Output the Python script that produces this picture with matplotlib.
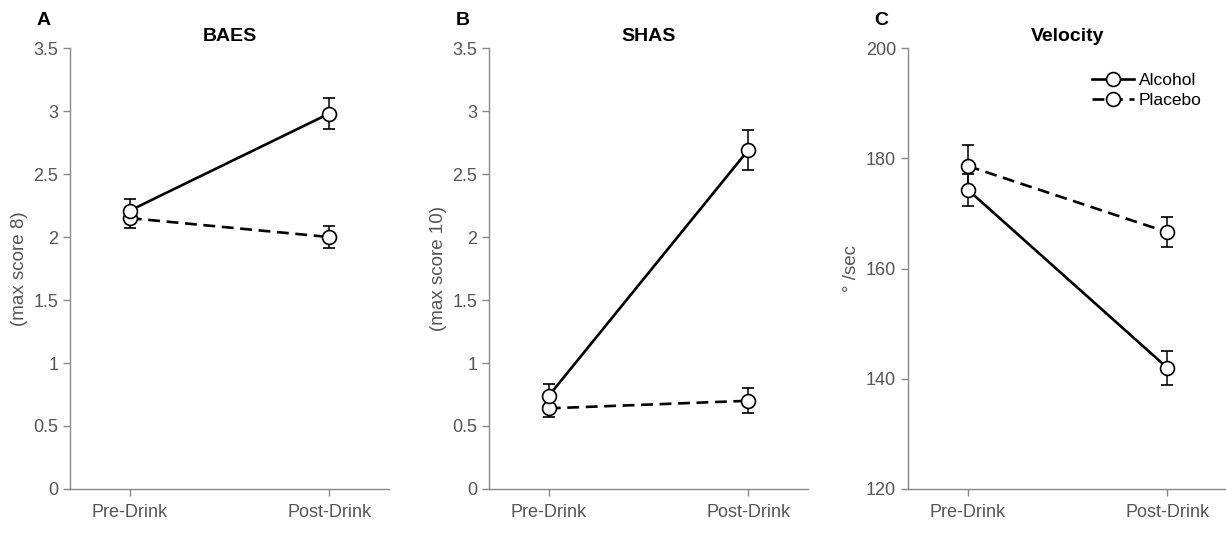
import numpy as np
import matplotlib
matplotlib.use('Agg')
import matplotlib.pyplot as plt
from matplotlib.lines import Line2D
from matplotlib.ticker import FuncFormatter

plt.rcParams['font.family'] = ['Liberation Sans', 'DejaVu Sans']

# data
phases = ['Pre-Drink', 'Post-Drink']
groups = ['Alcohol', 'Placebo']

baes_alcohol = [2.21, 2.98]
baes_alcohol_err = [0.09, 0.12]
baes_placebo = [2.15, 2.00]
baes_placebo_err = [0.075, 0.09]

shas_alcohol = [0.74, 2.69]
shas_alcohol_err = [0.09, 0.16]
shas_placebo = [0.64, 0.70]
shas_placebo_err = [0.065, 0.10]

vel_alcohol = [174.3, 142.0]
vel_alcohol_err = [2.9, 3.1]
vel_placebo = [178.6, 166.6]
vel_placebo_err = [3.8, 2.7]

panels = [
    ('A', 'BAES', '(max score 8)', baes_alcohol, baes_alcohol_err, baes_placebo, baes_placebo_err,
     (0, 3.5), np.arange(0, 3.51, 0.5)),
    ('B', 'SHAS', '(max score 10)', shas_alcohol, shas_alcohol_err, shas_placebo, shas_placebo_err,
     (0, 3.5), np.arange(0, 3.51, 0.5)),
    ('C', 'Velocity', '\u00b0 /sec', vel_alcohol, vel_alcohol_err, vel_placebo, vel_placebo_err,
     (120, 200), np.arange(120, 201, 20)),
]

fig = plt.figure(figsize=(12.26, 5.45), dpi=100)
lefts = [70 / 1226, 489 / 1226, 908 / 1226]
grey = '#555555'
spine_grey = '#888888'
dash = (0, (4.5, 2.5))
mstyle = dict(marker='o', ms=10, mfc='white', mec='black', mew=1.2)

x = np.arange(len(phases))
for i, (letter, title, ylab, a, ae, p, pe, ylim, yt) in enumerate(panels):
    ax = fig.add_axes([lefts[i], 0.1028, 0.2602, 0.809])
    ax.errorbar(x, p, yerr=pe, color='black', ls=dash, lw=1.9,
                capsize=4, elinewidth=1.1, ecolor='black', **mstyle)
    ax.errorbar(x, a, yerr=ae, color='black', ls='-', lw=1.9,
                capsize=4, elinewidth=1.1, ecolor='black', **mstyle)
    ax.set_xlim(-0.3, 1.3)
    ax.set_ylim(*ylim)
    ax.set_yticks(yt)
    ax.yaxis.set_major_formatter(FuncFormatter(lambda v, pos: '%g' % v))
    ax.set_xticks(x)
    ax.set_xticklabels(phases)
    for s in ['top', 'right']:
        ax.spines[s].set_visible(False)
    for s in ['left', 'bottom']:
        ax.spines[s].set_color(spine_grey)
        ax.spines[s].set_linewidth(1.0)
    ax.tick_params(colors=spine_grey, labelcolor=grey, labelsize=13, length=5, width=1.0)
    ax.tick_params(axis='x', pad=6)
    ax.set_ylabel(ylab, color=grey, fontsize=13.5, labelpad=4)
    ax.set_title(title, fontsize=14, fontweight='bold', pad=5)
    ax.text(-0.105, 1.063, letter, transform=ax.transAxes, fontsize=14,
            fontweight='bold', ha='left', va='center')
    if letter == 'C':
        h = [Line2D([], [], color='black', ls='-', lw=1.9, **mstyle),
             Line2D([], [], color='black', ls=dash, lw=1.9, **mstyle)]
        ax.legend(h, groups, loc='upper right', bbox_to_anchor=(0.97, 0.98),
                  frameon=False, fontsize=12.5, handlelength=2.4, handletextpad=0.3,
                  labelspacing=0.3)

fig.savefig('out.png', dpi=100)
